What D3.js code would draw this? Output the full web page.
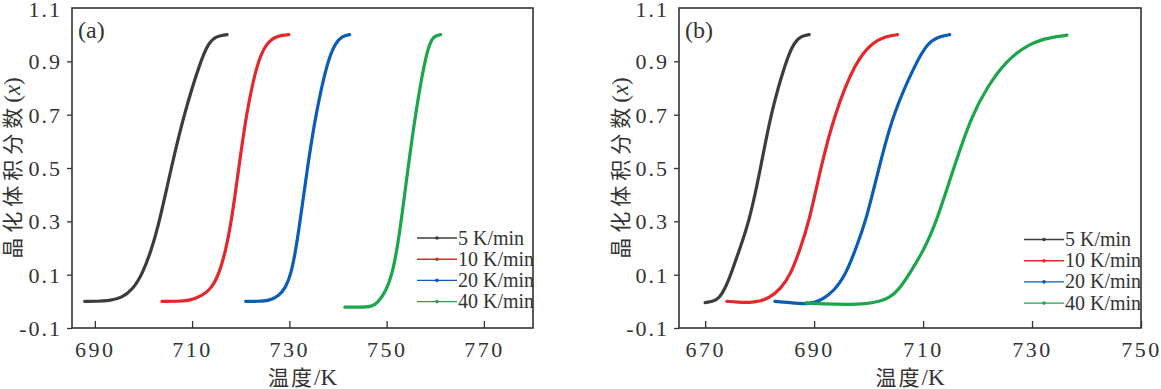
<!DOCTYPE html>
<html>
<head>
<meta charset="utf-8">
<script src="https://cdn.jsdelivr.net/npm/d3@7"></script>
<style>
  body { margin: 0; background: #fff; }
  svg { display: block; }
</style>
</head>
<body>
<div id="chart"></div>
<script>
// ---- data ----
var seriesNames = ["5 K/min", "10 K/min", "20 K/min", "40 K/min"];
var yTicks = [-0.1, 0.1, 0.3, 0.5, 0.7, 0.9, 1.1];
var xTicksA = [690, 710, 730, 750, 770];
var xTicksB = [670, 690, 710, 730, 750];

// panel (a): temperature (K) and crystallized fraction
var tempA5  = [687.9, 690.5, 692.9, 695.6, 697.8, 699.7, 701.6, 703.3, 705.7, 708.3, 711.7, 713.4, 715.0, 717.2];
var fracA5  = [0, 0, 0.002, 0.013, 0.045, 0.1, 0.19, 0.3, 0.5, 0.7, 0.9, 0.97, 0.995, 1.0];
var tempA10 = [703.8, 707.0, 709.3, 712.1, 714.0, 715.5, 716.9, 718.1, 719.6, 721.1, 723.4, 725.4, 727.2, 729.9];
var fracA10 = [0, 0, 0.002, 0.02, 0.05, 0.1, 0.19, 0.3, 0.5, 0.7, 0.9, 0.97, 0.995, 1.0];
var tempA20 = [721.0, 723.5, 725.8, 727.8, 729.2, 730.3, 731.3, 732.2, 733.7, 735.4, 737.8, 739.5, 740.9, 742.4];
var fracA20 = [0, 0, 0.002, 0.02, 0.05, 0.1, 0.19, 0.3, 0.5, 0.7, 0.9, 0.97, 0.995, 1.0];
var tempA40 = [741.4, 744.5, 747.0, 748.2, 749.9, 751.1, 752.1, 753.0, 754.4, 755.9, 757.8, 758.9, 759.8, 761.1];
var fracA40 = [-0.022, -0.022, -0.02, -0.005, 0.04, 0.1, 0.19, 0.3, 0.5, 0.7, 0.9, 0.97, 0.995, 1.0];

// panel (b)
var tempB5  = [670.0, 671.5, 672.6, 673.7, 674.7, 676.4, 678.1, 680.2, 682.0, 684.8, 686.3, 687.6, 689.1];
var fracB5  = [-0.005, 0.0, 0.012, 0.05, 0.1, 0.2, 0.3, 0.5, 0.7, 0.9, 0.97, 0.995, 1.0];
var tempB10 = [674.0, 676.0, 678.1, 680.0, 681.7, 683.8, 685.7, 687.5, 689.1, 691.2, 693.7, 697.6, 700.7, 703.0, 705.3];
var fracB10 = [0.0, -0.003, -0.005, 0.0, 0.012, 0.045, 0.1, 0.2, 0.3, 0.5, 0.7, 0.9, 0.97, 0.993, 1.0];
var tempB20 = [682.8, 685.5, 688.5, 690.0, 691.5, 693.7, 695.8, 697.7, 699.5, 701.9, 704.4, 708.8, 710.9, 712.9, 714.9];
var fracB20 = [0.0, -0.005, -0.01, -0.005, 0.006, 0.04, 0.1, 0.2, 0.3, 0.5, 0.7, 0.9, 0.97, 0.993, 1.0];
var tempB40 = [688.5, 692.0, 696.0, 699.5, 702.0, 703.8, 705.6, 707.4, 710.1, 712.5, 715.6, 719.0, 721.7, 725.1, 729.7, 733.5, 736.4];
var fracB40 = [-0.006, -0.01, -0.012, -0.01, 0.0, 0.012, 0.045, 0.1, 0.19, 0.3, 0.5, 0.7, 0.8, 0.9, 0.97, 0.99, 0.998];

var colors = ["#3c3c3c", "#e5262b", "#0a5db6", "#1ca64a"];
var serif = "'Liberation Serif', 'DejaVu Serif', serif";

var svg = d3.select("#chart").append("svg")
    .attr("width", 1161)
    .attr("height", 389);

svg.append("rect").attr("width", 1161).attr("height", 389).attr("fill", "#fff");

function zip(t, f) {
  return t.map(function(d, i) { return [d, f[i]]; });
}

function drawPanel(opt) {
  var left = opt.left, right = opt.right, top = 8, bottom = 328;

  var x = d3.scaleLinear().domain(opt.xDomain).range([left, right]);
  var y = d3.scaleLinear().domain([-0.1, 1.1]).range([bottom, top]);

  var g = svg.append("g");

  // y axis, ticks pointing out
  var yAxis = g.append("g")
    .attr("transform", "translate(" + left + ",0)")
    .call(d3.axisLeft(y).tickValues(yTicks).tickSize(5).tickSizeOuter(0).tickPadding(5)
      .tickFormat(function(d) { return d3.format(".1f")(d).replace("−", "-"); }));
  yAxis.attr("font-family", serif).attr("font-size", 22);
  yAxis.select(".domain").remove();
  yAxis.selectAll(".tick line").attr("stroke", "#333").attr("stroke-width", 1.3);
  yAxis.selectAll(".tick text").attr("fill", "#333").attr("letter-spacing", 2).attr("dy", "0.34em");
  yAxis.selectAll(".tick").filter(function(d) { return d > 1; }).select("line").remove();
  yAxis.selectAll(".tick").filter(function(d) { return d > 1; }).select("text").attr("dy", "0.4em");

  // x axis, ticks pointing in
  var xAxis = g.append("g")
    .attr("transform", "translate(0," + bottom + ")")
    .call(d3.axisBottom(x).tickValues(opt.xTicks).tickSize(-7).tickSizeOuter(0).tickPadding(13));
  xAxis.attr("font-family", serif).attr("font-size", 22);
  xAxis.select(".domain").remove();
  xAxis.selectAll(".tick line").attr("stroke", "#333").attr("stroke-width", 1.3);
  xAxis.selectAll(".tick text").attr("fill", "#333").attr("letter-spacing", 2.5);

  // frame
  g.append("rect")
    .attr("x", left).attr("y", top)
    .attr("width", right - left).attr("height", bottom - top)
    .attr("fill", "none").attr("stroke", "#333").attr("stroke-width", 1.6);

  // curves
  var line = d3.line()
    .x(function(d) { return x(d[0]); })
    .y(function(d) { return y(d[1]); })
    .curve(d3.curveBasis);

  opt.series.forEach(function(s, i) {
    g.append("path")
      .datum(s)
      .attr("d", line)
      .attr("fill", "none")
      .attr("stroke", colors[i])
      .attr("stroke-width", 3.2)
      .attr("stroke-linecap", "round");
  });

  // panel label
  g.append("text")
    .attr("x", left + 6).attr("y", 38)
    .attr("font-family", serif)
    .attr("font-size", 24)
    .attr("fill", "#333")
    .text(opt.label);

  // legend
  var leg = g.append("g");
  seriesNames.forEach(function(name, i) {
    var ly = opt.legendTop + i * 21.2;
    leg.append("line")
      .attr("x1", opt.legendX).attr("x2", opt.legendX + 40)
      .attr("y1", ly).attr("y2", ly)
      .attr("stroke", colors[i]).attr("stroke-width", 1.4);
    leg.append("circle")
      .attr("cx", opt.legendX + 20).attr("cy", ly).attr("r", 1.8)
      .attr("fill", colors[i]);
    leg.append("text")
      .attr("x", opt.legendX + 41).attr("y", ly + 6.5)
      .attr("font-family", serif)
      .attr("font-size", 20)
      .attr("fill", "#333")
      .text(name);
  });

  // axis titles
  var xt = g.append("text")
    .attr("x", (left + right) / 2).attr("y", 385)
    .attr("text-anchor", "middle")
    .attr("font-size", 21)
    .attr("fill", "#333");
  xt.append("tspan").attr("font-family", "Noto Sans CJK SC").attr("letter-spacing", 2).text("温度");
  xt.append("tspan").attr("font-family", serif).attr("font-size", 23).text("/K");

  var yt = g.append("text")
    .attr("transform", "translate(" + opt.yTitleX + "," + ((top + bottom) / 2) + ") rotate(-90)")
    .attr("text-anchor", "middle")
    .attr("font-size", 21)
    .attr("fill", "#333");
  yt.append("tspan").attr("font-family", "Noto Sans CJK SC").attr("letter-spacing", 5).text("晶化体积分数");
  yt.append("tspan").attr("font-family", serif).attr("font-size", 23).text("(");
  yt.append("tspan").attr("font-family", serif).attr("font-size", 23).attr("font-style", "italic").text("x");
  yt.append("tspan").attr("font-family", serif).attr("font-size", 23).text(")");
}

drawPanel({
  left: 72, right: 533,
  xDomain: [685.3, 780.1],
  xTicks: xTicksA,
  series: [zip(tempA5, fracA5), zip(tempA10, fracA10), zip(tempA20, fracA20), zip(tempA40, fracA40)],
  label: "(a)",
  legendX: 417, legendTop: 238,
  yTitleX: 20
});

drawPanel({
  left: 679, right: 1141,
  xDomain: [665.2, 750],
  xTicks: xTicksB,
  series: [zip(tempB5, fracB5), zip(tempB10, fracB10), zip(tempB20, fracB20), zip(tempB40, fracB40)],
  label: "(b)",
  legendX: 1024, legendTop: 239.5,
  yTitleX: 628
});
</script>
</body>
</html>
